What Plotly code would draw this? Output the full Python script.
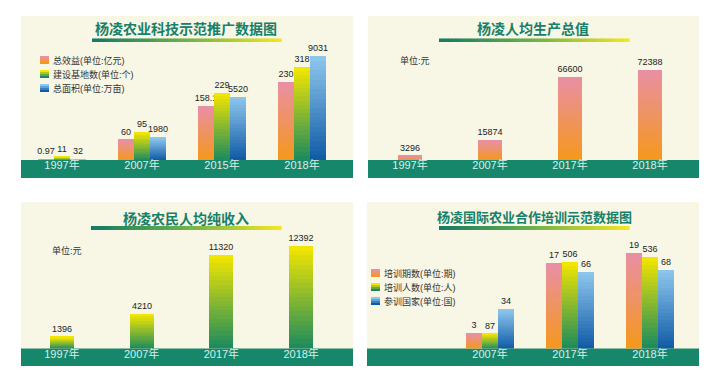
import plotly.graph_objects as go

W, H = 708, 371

# ---------------- data ----------------
p1_years = ["1997年", "2007年", "2015年", "2018年"]
p1_benefit = [0.97, 60, 158.1, 230]
p1_bases = [11, 95, 229, 318]
p1_area = [32, 1980, 5520, 9031]
p1_names = ["总效益(单位:亿元)", "建设基地数(单位:个)", "总面积(单位:万亩)"]
p1_title = "杨凌农业科技示范推广数据图"

p2_years = ["1997年", "2007年", "2017年", "2018年"]
p2_gdp = [3296, 15874, 66600, 72388]
p2_title = "杨凌人均生产总值"

p3_years = ["1997年", "2007年", "2017年", "2018年"]
p3_income = [1396, 4210, 11320, 12392]
p3_title = "杨凌农民人均纯收入"

p4_years = ["2007年", "2017年", "2018年"]
p4_sessions = [3, 17, 19]
p4_people = [87, 506, 536]
p4_countries = [34, 66, 68]
p4_names = ["培训期数(单位:期)", "培训人数(单位:人)", "参训国家(单位:国)"]
p4_title = "杨凌国际农业合作培训示范数据图"

unit_label = "单位:元"

# ---------------- style ----------------
CREAM = "#f8f6e4"
BAND = "#16876b"
TITLE_C = "#17806a"
LABEL_C = "#222222"
TICK_C = "#d9efe6"
FONT = "Liberation Sans, Noto Sans CJK SC, sans-serif"
CJK = "Noto Sans CJK SC, sans-serif"

PINK = ("#e98fa6", "#f4981c")     # (top, bottom)
GREEN = ("#f6e700", "#1a8a5e")
BLUE = ("#8fc8ee", "#0f5aa5")

NSEG = 22


def px(x):
    return x / W


def py(y):
    return 1 - y / H


def hex2rgb(h):
    h = h.lstrip("#")
    return tuple(int(h[i:i + 2], 16) for i in (0, 2, 4))


def lerp(c1, c2, t):
    a, b = hex2rgb(c1), hex2rgb(c2)
    return "rgb(%d,%d,%d)" % tuple(round(a[i] + (b[i] - a[i]) * t) for i in range(3))


fig = go.Figure()


def grad_bars(x, vals, xa, ya, offset, width, colors, name):
    top, bottom = colors
    # main bar carrying the data and the value label
    fig.add_trace(go.Bar(
        x=x, y=vals, xaxis=xa, yaxis=ya, offset=offset, width=width,
        marker=dict(color=lerp(bottom, top, 0.5 / NSEG), line=dict(width=0)),
        text=[str(v) for v in vals], textposition="outside",
        textfont=dict(size=9, color=LABEL_C, family=FONT),
        constraintext="none", cliponaxis=False, name=name, showlegend=False,
    ))
    # gradient overlay
    for k in range(1, NSEG):
        t = (k + 0.5) / NSEG
        fig.add_trace(go.Bar(
            x=x, y=[v / NSEG for v in vals], base=[v * k / NSEG for v in vals],
            xaxis=xa, yaxis=ya, offset=offset, width=width,
            marker=dict(color=lerp(bottom, top, t), line=dict(width=0)),
            hoverinfo="skip", showlegend=False,
        ))


# panel 1
grad_bars(p1_years, p1_benefit, "x", "y", -0.3, 0.2, PINK, p1_names[0])
grad_bars(p1_years, p1_bases, "x", "y2", -0.1, 0.2, GREEN, p1_names[1])
grad_bars(p1_years, p1_area, "x", "y3", 0.1, 0.2, BLUE, p1_names[2])
# panel 2
grad_bars(p2_years, p2_gdp, "x2", "y4", -0.15, 0.3, PINK, p2_title)
# panel 3
grad_bars(p3_years, p3_income, "x3", "y5", -0.15, 0.3, GREEN, p3_title)
# panel 4
grad_bars(p4_years, p4_sessions, "x4", "y6", -0.3, 0.2, PINK, p4_names[0])
grad_bars(p4_years, p4_people, "x4", "y7", -0.1, 0.2, GREEN, p4_names[1])
grad_bars(p4_years, p4_countries, "x4", "y8", 0.1, 0.2, BLUE, p4_names[2])

shapes = []
annotations = []


def rect(x0, y0, x1, y1, color):
    shapes.append(dict(type="rect", xref="paper", yref="paper",
                       x0=px(x0), x1=px(x1), y0=py(y1), y1=py(y0),
                       fillcolor=color, line=dict(width=0), layer="below"))


def underline(x0, x1, y0, y1):
    n = 60
    step = (x1 - x0) / n
    for i in range(n):
        t = i / (n - 1)
        if t < 0.5:
            c = lerp("#137a66", "#6fb04a", t / 0.5)
        else:
            c = lerp("#6fb04a", "#f2e620", (t - 0.5) / 0.5)
        rect(x0 + i * step, y0, x0 + (i + 1) * step + 0.6, y1, c)


def title(text, x, y, size):
    annotations.append(dict(text="<b>%s</b>" % text, x=px(x), y=py(y), xref="paper", yref="paper",
                            showarrow=False, xanchor="center", yanchor="middle",
                            font=dict(size=size, color=TITLE_C, family=CJK)))


def legend(names, colors, x, ys):
    for n, c, y in zip(names, colors, ys):
        top, bottom = c
        for j in range(4):
            rect(x, y - 4 + j * 2, x + 9, y - 4 + (j + 1) * 2, lerp(top, bottom, j / 3))
        annotations.append(dict(text=n, x=px(x + 11), y=py(y), xref="paper", yref="paper",
                                showarrow=False, xanchor="left", yanchor="middle",
                                font=dict(size=9, color="#333333", family=FONT)))


# backgrounds and bands
rect(13, 8, 345, 170, CREAM)
rect(360, 8, 691, 170, CREAM)
rect(13, 194, 345, 358, CREAM)
rect(359, 194, 691, 358, CREAM)
rect(13, 152, 345, 170, BAND)
rect(360, 152, 691, 170, BAND)
rect(13, 340.5, 345, 358, BAND)
rect(359, 340.5, 691, 358, BAND)

underline(84, 273, 30.5, 34)
underline(431, 621, 30.5, 34)
underline(83, 273, 218, 222)
underline(431, 621, 218, 222)

title(p1_title, 178, 20, 14)
title(p2_title, 525, 20, 14)
title(p3_title, 178, 210, 14)
title(p4_title, 526, 208, 13)

legend(p1_names, [PINK, GREEN, BLUE], 32, [52, 66, 80])
legend(p4_names, [PINK, GREEN, BLUE], 363, [265, 279, 293])

for x, y in [(390, 53), (42, 242)]:
    annotations.append(dict(text=unit_label, x=px(x), y=py(y), xref="paper", yref="paper",
                            showarrow=False, xanchor="left", yanchor="middle",
                            font=dict(size=9, color="#333333", family=FONT)))

xax = dict(type="category", showgrid=False, zeroline=False, showline=False, ticks="",
           tickfont=dict(size=11, color=TICK_C, family=FONT), fixedrange=True,
           ticklabelstandoff=-3)
yax = dict(visible=False, showgrid=False, zeroline=False, fixedrange=True)

top_dom = [py(152), py(40)]
bot_dom = [py(340.5), py(225)]

fig.update_layout(
    width=W, height=H, margin=dict(l=0, r=0, t=0, b=0),
    paper_bgcolor="white", plot_bgcolor="rgba(0,0,0,0)",
    barmode="overlay", showlegend=False, bargap=0,
    font=dict(family=FONT),
    xaxis=dict(xax, domain=[px(14), px(334)], range=[-0.5, 3.5], anchor="y"),
    yaxis=dict(yax, domain=top_dom, range=[0, 330], anchor="x"),
    yaxis2=dict(yax, overlaying="y", range=[0, 381], anchor="x"),
    yaxis3=dict(yax, overlaying="y", range=[0, 9744], anchor="x"),
    xaxis2=dict(xax, domain=[px(362), px(682)], range=[-0.5, 3.5], anchor="y4"),
    yaxis4=dict(yax, domain=top_dom, range=[0, 89600], anchor="x2"),
    xaxis3=dict(xax, domain=[px(14), px(333)], range=[-0.5, 3.5], anchor="y5"),
    yaxis5=dict(yax, domain=bot_dom, range=[0, 13971], anchor="x3"),
    xaxis4=dict(xax, domain=[px(442), px(682)], range=[-0.5, 2.5], anchor="y6"),
    yaxis6=dict(yax, domain=bot_dom, range=[0, 23], anchor="x4"),
    yaxis7=dict(yax, overlaying="y6", range=[0, 673], anchor="x4"),
    yaxis8=dict(yax, overlaying="y6", range=[0, 99.5], anchor="x4"),
    shapes=shapes, annotations=annotations,
)

fig.write_html("out.html")
